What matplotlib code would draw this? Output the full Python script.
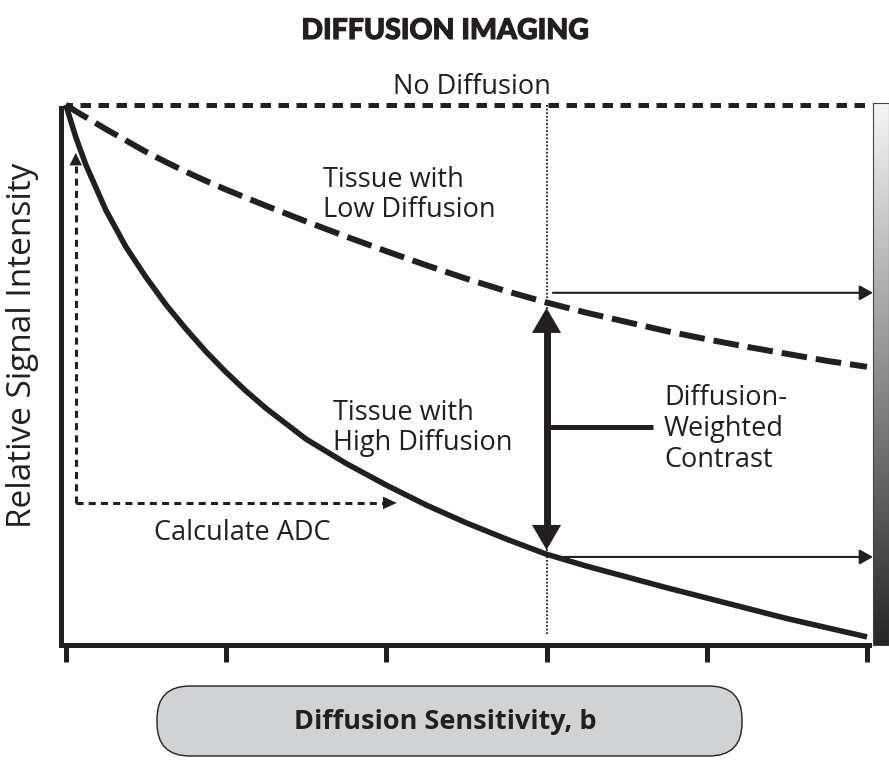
import numpy as np
import matplotlib
matplotlib.use('Agg')
import matplotlib.pyplot as plt
import matplotlib.patheffects as pe
from matplotlib.patches import FancyBboxPatch

# signal decay vs diffusion weighting (arbitrary units)
b_values    = [0, 0.0625, 0.125, 0.25, 0.375, 0.5, 0.625, 0.75, 0.875,
               1.0, 1.125, 1.25, 1.5, 1.75, 2.0, 2.25, 2.5, 2.75, 3.0,
               3.25, 3.5, 3.75, 4.0, 4.25, 4.5, 4.75, 5.0]
low_signal  = [1.000, 0.988, 0.977, 0.955, 0.934, 0.913, 0.894, 0.876, 0.859,
               0.843, 0.828, 0.813, 0.784, 0.756, 0.729, 0.703, 0.678, 0.655, 0.634,
               0.615, 0.598, 0.581, 0.566, 0.552, 0.539, 0.526, 0.515]
high_signal = [1.000, 0.940, 0.889, 0.805, 0.737, 0.681, 0.630, 0.585, 0.543,
               0.505, 0.470, 0.438, 0.381, 0.336, 0.296, 0.259, 0.226, 0.196, 0.168,
               0.146, 0.126, 0.106, 0.087, 0.068, 0.049, 0.032, 0.015]
no_diff_b      = [0, 5.025]
no_diff_signal = [1.0, 1.0]
b_ticks = [0, 1, 2, 3, 4, 5]

ink  = '#231f20'
W, H = 889, 760
body = ['Open Sans', 'DejaVu Sans']

def fpos(x, y):
    # pixel position -> figure fraction
    return x / W, 1 - y / H

fig = plt.figure(figsize=(W / 100, H / 100), dpi=100)
ax = fig.add_axes([61 / W, (H - 645) / H, 806 / W, 551 / H])
ax.set_xlim(-0.03, 5.0)
ax.set_ylim(0, 1.02)

for s in ['top', 'right']:
    ax.spines[s].set_visible(False)
ax.spines['left'].set_bounds(0, 0.994)
ax.spines['bottom'].set_bounds(-0.03, 5.012)
for s in ['left', 'bottom']:
    ax.spines[s].set_linewidth(3.6)
    ax.spines[s].set_color(ink)
ax.set_xticks(b_ticks)
ax.set_xticklabels([])
ax.set_yticks([])
ax.tick_params(axis='x', direction='out', length=12, width=3.6, color=ink)

# curves
ax.plot(no_diff_b, no_diff_signal, color=ink, lw=3.6, ls=(0.8, (2.1, 1.5)), clip_on=False)
ax.plot(b_values, low_signal, color=ink, lw=4.3, ls=(0, (4.3, 1.5)), clip_on=False)
ax.plot(b_values, high_signal, color=ink, lw=4.0, clip_on=False, solid_capstyle='butt')

# thin dotted marker at the chosen b
b_sel = 3.0
ax.plot([b_sel, b_sel], [0.02, 1.0], color=ink, lw=1.3, ls=(0, (1, 1)))

def head(xy, frm, hl, hw, scale=10):
    ax.annotate('', xy=xy, xytext=frm, annotation_clip=False,
                arrowprops=dict(arrowstyle='-|>,head_length=%g,head_width=%g' % (hl, hw),
                                mutation_scale=scale, lw=0, color=ink,
                                shrinkA=0, shrinkB=0))

# ADC arrows (dotted)
adc_x, adc_y, adc_top, adc_right = 0.062, 0.263, 0.911, 2.066
ax.plot([adc_x, adc_x], [adc_y, adc_top - 0.015], color=ink, lw=2.2, ls=(0, (2.3, 1.7)))
ax.plot([adc_x, adc_right - 0.05], [adc_y, adc_y], color=ink, lw=2.2, ls=(0, (2.3, 1.7)))
head((adc_x, adc_top), (adc_x, adc_top - 0.05), 0.9, 0.45)
head((adc_right, adc_y), (adc_right - 0.2, adc_y), 1.0, 0.45)

# contrast double arrow
top_tip, bot_tip = 0.624, 0.176
ax.plot([b_sel, b_sel], [bot_tip + 0.03, top_tip - 0.03], color=ink, lw=5)
head((b_sel, top_tip), (b_sel, top_tip - 0.1), 1.8, 1.05)
head((b_sel, bot_tip), (b_sel, bot_tip + 0.1), 1.8, 1.05)
ax.plot([b_sel, 3.664], [0.404, 0.404], color=ink, lw=3.6, solid_capstyle='butt')

# arrows pointing to the grey scale
for yv in [0.652, 0.163]:
    ax.annotate('', xy=(5.037, yv), xytext=(3.04, yv), annotation_clip=False,
                arrowprops=dict(arrowstyle='-|>,head_length=0.8,head_width=0.45',
                                mutation_scale=10, lw=1.5, color=ink,
                                shrinkA=0, shrinkB=0))

# grey scale bar
cax = fig.add_axes([873 / W, (H - 645) / H, 16 / W, 542 / H])
grad = np.linspace(0.96, 0.15, 256).reshape(-1, 1)
cax.imshow(grad, aspect='auto', cmap='gray', vmin=0, vmax=1)
cax.set_xticks([])
cax.set_yticks([])
for s in cax.spines.values():
    s.set_linewidth(0.8)
    s.set_color('#444444')

# text
fs = 19.5
fig.text(*fpos(445, 31), 'DIFFUSION IMAGING', ha='center', va='center',
         fontsize=20.5, fontweight='black', color=ink,
         family=['Lato', 'DejaVu Sans'],
         path_effects=[pe.withStroke(linewidth=0.8, foreground=ink)])
fig.text(*fpos(472, 87), 'No Diffusion', ha='center', va='center',
         fontsize=fs, color=ink, family=body)
fig.text(*fpos(323, 195), 'Tissue with\nLow Diffusion', ha='left', va='center',
         fontsize=fs, color=ink, family=body, linespacing=1.1)
fig.text(*fpos(333, 428), 'Tissue with\nHigh Diffusion', ha='left', va='center',
         fontsize=fs, color=ink, family=body, linespacing=1.1)
fig.text(*fpos(664, 429), 'Diffusion-\nWeighted\nContrast', ha='left', va='center',
         fontsize=fs, color=ink, family=body, linespacing=1.13)
fig.text(*fpos(242, 533), 'Calculate ADC', ha='center', va='center',
         fontsize=fs, color=ink, family=body)
fig.text(*fpos(23, 345), 'Relative Signal Intensity', ha='center', va='center',
         rotation=90, fontsize=24, color=ink, family=body)

# x label in rounded box
bax = fig.add_axes([0, 0, 1, 1], zorder=-1)
bax.set_xlim(0, W)
bax.set_ylim(H, 0)
bax.axis('off')
bax.add_patch(FancyBboxPatch((157, 686), 585, 70,
                             boxstyle='round,pad=0,rounding_size=33',
                             fc='#d1d2d4', ec=ink, lw=1.0))
fig.text(*fpos(445, 722), 'Diffusion Sensitivity, b', ha='center', va='center',
         fontsize=19.5, fontweight='bold', color=ink, family=body)

fig.savefig('out.png', dpi=100)
